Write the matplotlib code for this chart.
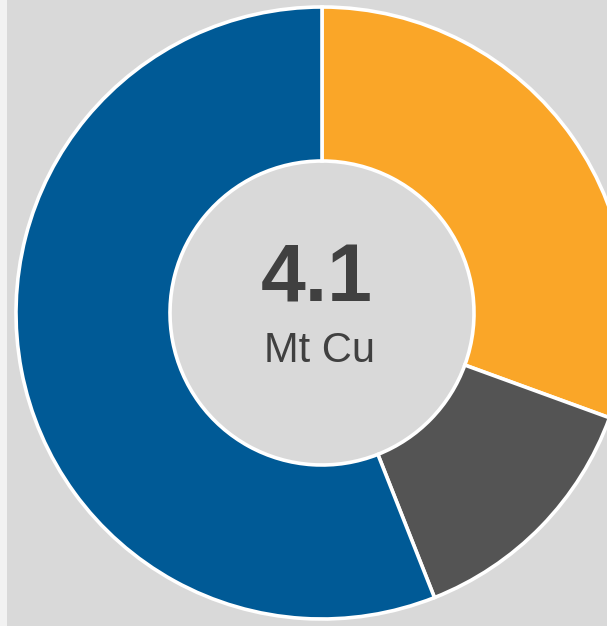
import matplotlib.pyplot as plt
from matplotlib.patches import Rectangle

# Mt Cu by segment
labels = ["Orange", "Grey", "Blue"]
values = [1.25, 0.55, 2.29]
colors = ["#FAA628", "#545454", "#005A96"]
total_txt = "4.1"
unit_txt = "Mt Cu"

W, H = 607, 626
fig = plt.figure(figsize=(W / 100, H / 100), dpi=100)
fig.patch.set_facecolor("#D9D9D9")
fig.patches.append(Rectangle((0, 0), 7 / W, 1, transform=fig.transFigure,
                             facecolor="#F2F2F2", edgecolor="none", zorder=0))

ax = fig.add_axes([0, 0, 1, 1])
ax.set_facecolor("none")

cx, cy = 322, H - 313
R = 306
ax.pie(values, colors=colors, startangle=90, counterclock=False,
       center=(cx, cy), radius=R,
       wedgeprops=dict(width=154, edgecolor="white", linewidth=2.6))

ax.set_xlim(0, W)
ax.set_ylim(0, H)
ax.set_aspect("equal")
ax.axis("off")

ax.text(317, H - 280, total_txt, ha="center", va="center", fontsize=58,
        fontweight="bold", color="#404040", family="Liberation Sans")
ax.text(320, H - 351, unit_txt, ha="center", va="center", fontsize=30,
        color="#404040", family="Liberation Sans")

fig.savefig("out.png", dpi=100, facecolor=fig.get_facecolor())
